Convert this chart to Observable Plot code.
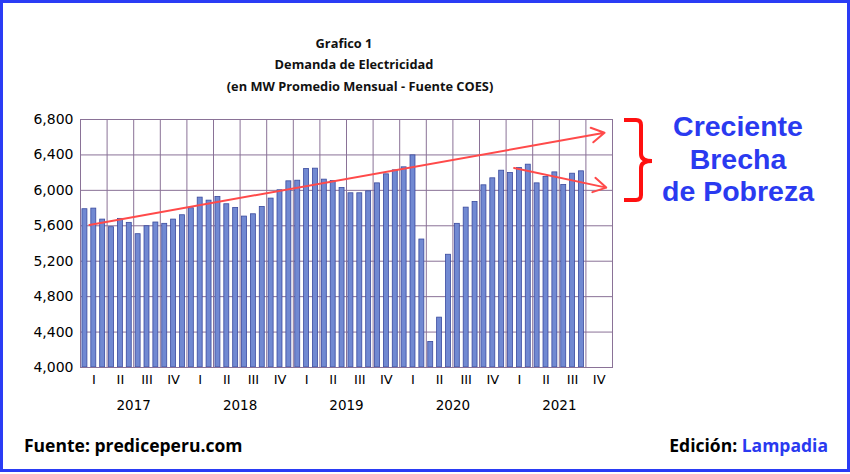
<!DOCTYPE html>
<html>
<head>
<meta charset="utf-8">
<script src="https://cdn.jsdelivr.net/npm/d3@7"></script>
<script src="https://cdn.jsdelivr.net/npm/@observablehq/plot@0.6"></script>
<style>
  html, body { margin: 0; padding: 0; background: #fff; }
  #wrap { position: relative; width: 850px; height: 474px; overflow: hidden; background: #fff; }
  #frame { position: absolute; left: 0; top: 0; width: 850px; height: 472px; box-sizing: border-box; border: 3px solid #2a3cf5; pointer-events: none; }
  .t { position: absolute; font-family: "Open Sans", sans-serif; font-weight: 700; white-space: nowrap; transform: translateX(-50%); color: #111; }
  #chart { position: absolute; left: 0; top: 100px; }
  .side { position: absolute; left: 738px; transform: translateX(-50%); text-align: center; font-family: "Liberation Sans", Arial, sans-serif; font-weight: 700; font-size: 28.5px; line-height: 30px; height: 30px; color: #2a3af0; white-space: nowrap; }
  .foot { position: absolute; top: 433px; font-family: "Open Sans", sans-serif; font-weight: 700; font-size: 17.5px; color: #000; white-space: nowrap; }
  #bracket { position: absolute; left: 0; top: 0; }
</style>
</head>
<body>
<div id="wrap">
  <div class="t" style="left:344px; top:34px; font-size:12.8px;">Grafico 1</div>
  <div class="t" style="left:354px; top:55px; font-size:12.8px;">Demanda de Electricidad</div>
  <div class="t" style="left:360px; top:77px; font-size:12.8px;">(en MW Promedio Mensual - Fuente COES)</div>
  <div id="chart"></div>
  <svg id="bracket" width="850" height="474"><path d="M624,120 H636 Q641,120 641,125 V154 Q641,161 652,161 Q641,161 641,168 V195 Q641,200 636,200 H624" fill="none" stroke="#ff1010" stroke-width="4"/></svg>
  <div class="side" style="top:111px;">Creciente</div>
  <div class="side" style="top:143.5px;">Brecha</div>
  <div class="side" style="top:176px;">de Pobreza</div>
  <div class="foot" style="left:24px;">Fuente: prediceperu.com</div>
  <div class="foot" style="right:22px;">Edición: <span style="color:#2a3af0">Lampadia</span></div>
  <div id="frame"></div>
</div>
<script>
// Monthly electricity demand (MW, monthly average)
const years = [2017, 2018, 2019, 2020, 2021];
const demand2017 = [5787, 5794, 5670, 5584, 5678, 5633, 5505, 5595, 5637, 5622, 5670, 5719];
const demand2018 = [5798, 5918, 5884, 5926, 5843, 5802, 5704, 5730, 5813, 5907, 6001, 6102];
const demand2019 = [6109, 6241, 6245, 6121, 6106, 6027, 5967, 5967, 5989, 6079, 6181, 6226];
const demand2020 = [6260, 6395, 5445, 4289, 4563, 5273, 5622, 5805, 5869, 6057, 6136, 6222];
const demand2021 = [6196, 6252, 6290, 6079, 6151, 6203, 6061, 6188, 6215];
const quarterLabels = ["I", "II", "III", "IV"];
const yearLabels = ["2017", "2018", "2019", "2020", "2021"];
const yTicks = [4000, 4400, 4800, 5200, 5600, 6000, 6400, 6800];
// Trend arrows (month index, MW)
const trendArrows = [
  {x1: 1.0, y1: 5610, x2: 59.1, y2: 6650},
  {x1: 48.9, y1: 6252, x2: 59.3, y2: 6031}
];

const series = [demand2017, demand2018, demand2019, demand2020, demand2021];
const rows = [];
series.forEach((arr, yi) => arr.forEach((v, m) => rows.push({i: yi * 12 + m, value: v})));
const nMonths = years.length * 12;
const quarterCenters = d3.range(0, nMonths / 3).map(q => q * 3 + 1.5);
const yearCenters = years.map((y, k) => k * 12 + 6);
const gridLines = d3.range(0, nMonths + 1, 3);

const grid = "#8a7297";
const chart = Plot.plot({
  width: 640,
  height: 330,
  marginLeft: 80,
  marginRight: 28,
  marginTop: 19,
  marginBottom: 63,
  x: {type: "linear", domain: [0, nMonths]},
  y: {domain: [4000, 6800]},
  style: {fontFamily: "DejaVu Sans", fontSize: "13px", color: "#000", background: "transparent"},
  marks: [
    Plot.gridX(gridLines, {stroke: grid, strokeOpacity: 1}),
    Plot.gridY(yTicks, {stroke: grid, strokeOpacity: 1}),
    Plot.rect(rows, {
      x1: d => d.i + 0.22, x2: d => d.i + 0.78,
      y1: d => 4000, y2: "value",
      fill: "#7189d2", stroke: "#3a4a9e", strokeWidth: 0.8
    }),
    Plot.frame({stroke: grid}),
    Plot.axisY(yTicks, {tickSize: 0, tickPadding: 7, tickFormat: d3.format(","), fontSize: 14}),
    Plot.axisX(quarterCenters, {tickSize: 0, tickPadding: 7, tickFormat: d => quarterLabels[Math.floor(d / 3) % 4], fontSize: 13}),
    Plot.axisX(yearCenters, {tickSize: 0, tickPadding: 33, tickFormat: d => yearLabels[(d - 6) / 12], fontSize: 13.5}),
    Plot.arrow(trendArrows, {x1: "x1", y1: "y1", x2: "x2", y2: "y2", stroke: "#ff4a4a", strokeWidth: 2, headLength: 11})
  ]
});
document.getElementById("chart").appendChild(chart);
</script>
</body>
</html>
